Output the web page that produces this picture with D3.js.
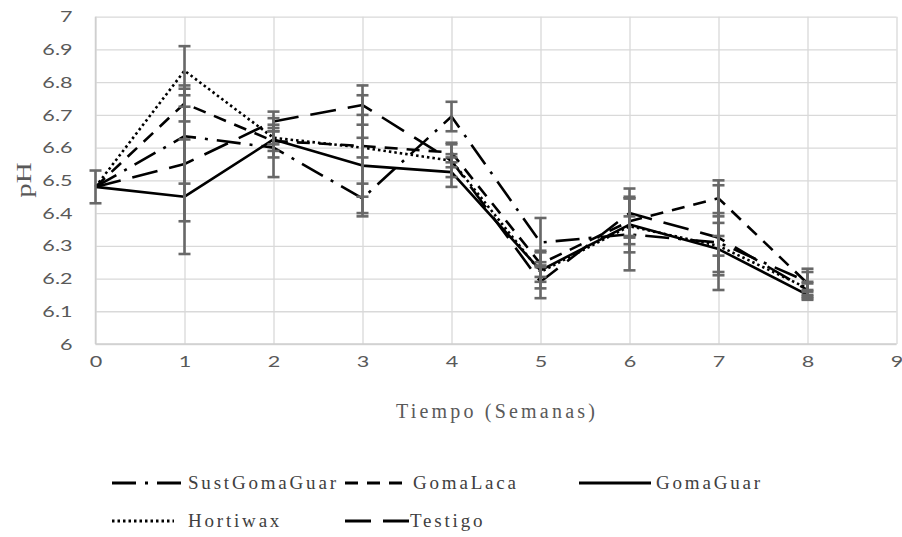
<!DOCTYPE html>
<html><head><meta charset="utf-8">
<script src="https://cdn.jsdelivr.net/npm/d3@7"></script>
<style>body{margin:0;background:#fff}svg{display:block}
.serif{font-family:"Liberation Serif","Times New Roman","DejaVu Serif",serif;}
.sans{font-family:Lato,"Open Sans",sans-serif;}
</style>
</head><body>
<svg id="chart" width="902" height="537"></svg>
<script>
// ---- data ----
const weeks = [0,1,2,3,4,5,6,7,8];
const seriesNames = ["SustGomaGuar","GomaLaca","GomaGuar","Hortiwax","Testigo"];
const sustGomaGuar = [6.48, 6.635, 6.60, 6.445, 6.695, 6.31, 6.335, 6.31, 6.19];
const gomaLaca     = [6.48, 6.735, 6.62, 6.605, 6.585, 6.245, 6.375, 6.445, 6.185];
const gomaGuar     = [6.48, 6.45, 6.625, 6.545, 6.525, 6.225, 6.365, 6.29, 6.15];
const hortiwax     = [6.48, 6.835, 6.63, 6.60, 6.56, 6.22, 6.36, 6.30, 6.17];
const testigo      = [6.48, 6.55, 6.68, 6.73, 6.56, 6.19, 6.40, 6.325, 6.165];
const errSustGomaGuar = [0, 0.145, 0.09, 0.045, 0.045, 0.075, 0.11, 0.09, 0.03];
const errGomaLaca     = [0, 0.055, 0.05, 0.155, 0.03, 0.04, 0.07, 0.055, 0.045];
const errGomaGuar     = [0.05, 0.175, 0.035, 0.155, 0.045, 0.055, 0.085, 0.08, 0.015];
const errHortiwax     = [0, 0.075, 0.02, 0.03, 0.02, 0.03, 0.03, 0.03, 0.02];
const errTestigo      = [0, 0.175, 0.03, 0.06, 0.05, 0.05, 0.075, 0.16, 0.02];
const yTicks = [6,6.1,6.2,6.3,6.4,6.5,6.6,6.7,6.8,6.9,7];
const yTickLabels = ["6","6.1","6.2","6.3","6.4","6.5","6.6","6.7","6.8","6.9","7"];
const xTicks = [0,1,2,3,4,5,6,7,8,9];
const xTitle = "Tiempo (Semanas)";
const yTitle = "pH";

// ---- styles ----
const dashes = {
  SustGomaGuar: "24,9,3,9",
  GomaLaca: "13,9",
  GomaGuar: null,
  Hortiwax: "2.5,3",
  Testigo: "26,12"
};
const values = [sustGomaGuar, gomaLaca, gomaGuar, hortiwax, testigo];
const errors = [errSustGomaGuar, errGomaLaca, errGomaGuar, errHortiwax, errTestigo];
const series = seriesNames.map((n,i)=>({name:n, values:values[i], err:errors[i], dash:dashes[n]}));

const svg = d3.select("#chart");
const x = d3.scaleLinear().domain([0,9]).range([95.5, 896.5]);
const y = d3.scaleLinear().domain([6,7]).range([344, 16.7]);
const gridColor = "#d9d9d9";
const textColor = "#595959";
const SX_SANS = 1.35;

// grid
const gy = svg.append("g").attr("transform",`translate(${x(0)},0)`)
  .call(d3.axisLeft(y).tickValues(yTicks).tickSize(-(x(9)-x(0))).tickFormat(""));
gy.select(".domain").remove();
gy.selectAll("line").attr("stroke",gridColor).attr("stroke-width",1.3);
const gx = svg.append("g").attr("transform",`translate(0,${y(6)})`)
  .call(d3.axisBottom(x).tickValues(xTicks).tickSize(-(y(6)-y(7))).tickFormat(""));
gx.select(".domain").remove();
gx.selectAll("line").attr("stroke",gridColor).attr("stroke-width",1.3);
// axis lines
svg.append("line").attr("x1",x(0)).attr("x2",x(9)).attr("y1",y(6)).attr("y2",y(6))
  .attr("stroke","#cfcfcf").attr("stroke-width",1.5);
svg.append("line").attr("x1",x(0)).attr("x2",x(0)).attr("y1",y(6)).attr("y2",y(7))
  .attr("stroke","#cfcfcf").attr("stroke-width",1.5);

// tick labels via axes
function stretchText(sel, sx){
  sel.each(function(){
    const t = d3.select(this);
    const xv = +t.attr("x") || 0;
    t.attr("x", xv/sx).attr("transform",`scale(${sx},1)`);
  });
}
const ay = svg.append("g").attr("transform",`translate(${x(0)},0)`)
  .call(d3.axisLeft(y).tickValues(yTicks).tickSize(0).tickPadding(23)
    .tickFormat((d,i)=>yTickLabels[i]));
ay.select(".domain").remove();
ay.attr("font-family",null).attr("font-size",null);
ay.selectAll("text").attr("fill",textColor).attr("class","sans").style("font-size","16px");
stretchText(ay.selectAll("text"), SX_SANS);
const ax = svg.append("g").attr("transform",`translate(0,${y(6)})`)
  .call(d3.axisBottom(x).tickValues(xTicks).tickSize(0).tickPadding(12).tickFormat(d3.format("d")));
ax.select(".domain").remove();
ax.attr("font-family",null).attr("font-size",null);
ax.selectAll("text").attr("fill",textColor).attr("class","sans").style("font-size","16px");
stretchText(ax.selectAll("text"), SX_SANS);

// titles
svg.append("text").attr("class","serif").attr("x",497).attr("y",418)
  .attr("text-anchor","middle").attr("fill",textColor)
  .style("font-size","20px").style("letter-spacing","3.2px").text(xTitle);
svg.append("text").attr("class","serif").attr("transform",`translate(31,180) rotate(-90) scale(1.45,1)`)
  .attr("text-anchor","middle").attr("fill",textColor)
  .style("font-size","20px").text(yTitle);

// lines
const line = d3.line().x((d,i)=>x(weeks[i])).y(d=>y(d));
const gl = svg.append("g");
series.forEach(s=>{
  gl.append("path").datum(s.values).attr("d",line)
    .attr("fill","none").attr("stroke","#000").attr("stroke-width",2.6)
    .attr("stroke-linejoin","round")
    .attr("stroke-dasharray", s.dash);
});
// error bars
const ge = svg.append("g").attr("stroke","#686868").attr("stroke-width",2.6);
series.forEach(s=>{
  s.values.forEach((v,i)=>{
    const e = s.err[i];
    if(!e) return;
    const cx = x(weeks[i]);
    ge.append("line").attr("x1",cx).attr("x2",cx).attr("y1",y(v+e)).attr("y2",y(v-e));
    [v+e, v-e].forEach(c=>{
      ge.append("line").attr("x1",cx-6).attr("x2",cx+6).attr("y1",y(c)).attr("y2",y(c));
    });
  });
});

// legend
const legendPos = [
  {sx:112, tx:188, y:483},
  {sx:345, tx:413, y:483},
  {sx:579, tx:656, y:483},
  {sx:112, tx:188, y:521},
  {sx:345, tx:410, y:521}
];
const swatchLen = [70, 64, 72, 62, 64];
const lg = svg.append("g");
series.forEach((s,i)=>{
  const p = legendPos[i];
  lg.append("line").attr("x1",p.sx).attr("x2",p.sx+swatchLen[i]).attr("y1",p.y).attr("y2",p.y)
    .attr("stroke","#000").attr("stroke-width",3).attr("stroke-dasharray",s.dash);
  lg.append("text").attr("class","serif").attr("x",p.tx).attr("y",p.y+6)
    .attr("fill","#404040").style("font-size","19px").style("letter-spacing","2.8px")
    .text(s.name);
});
</script>
</body></html>
